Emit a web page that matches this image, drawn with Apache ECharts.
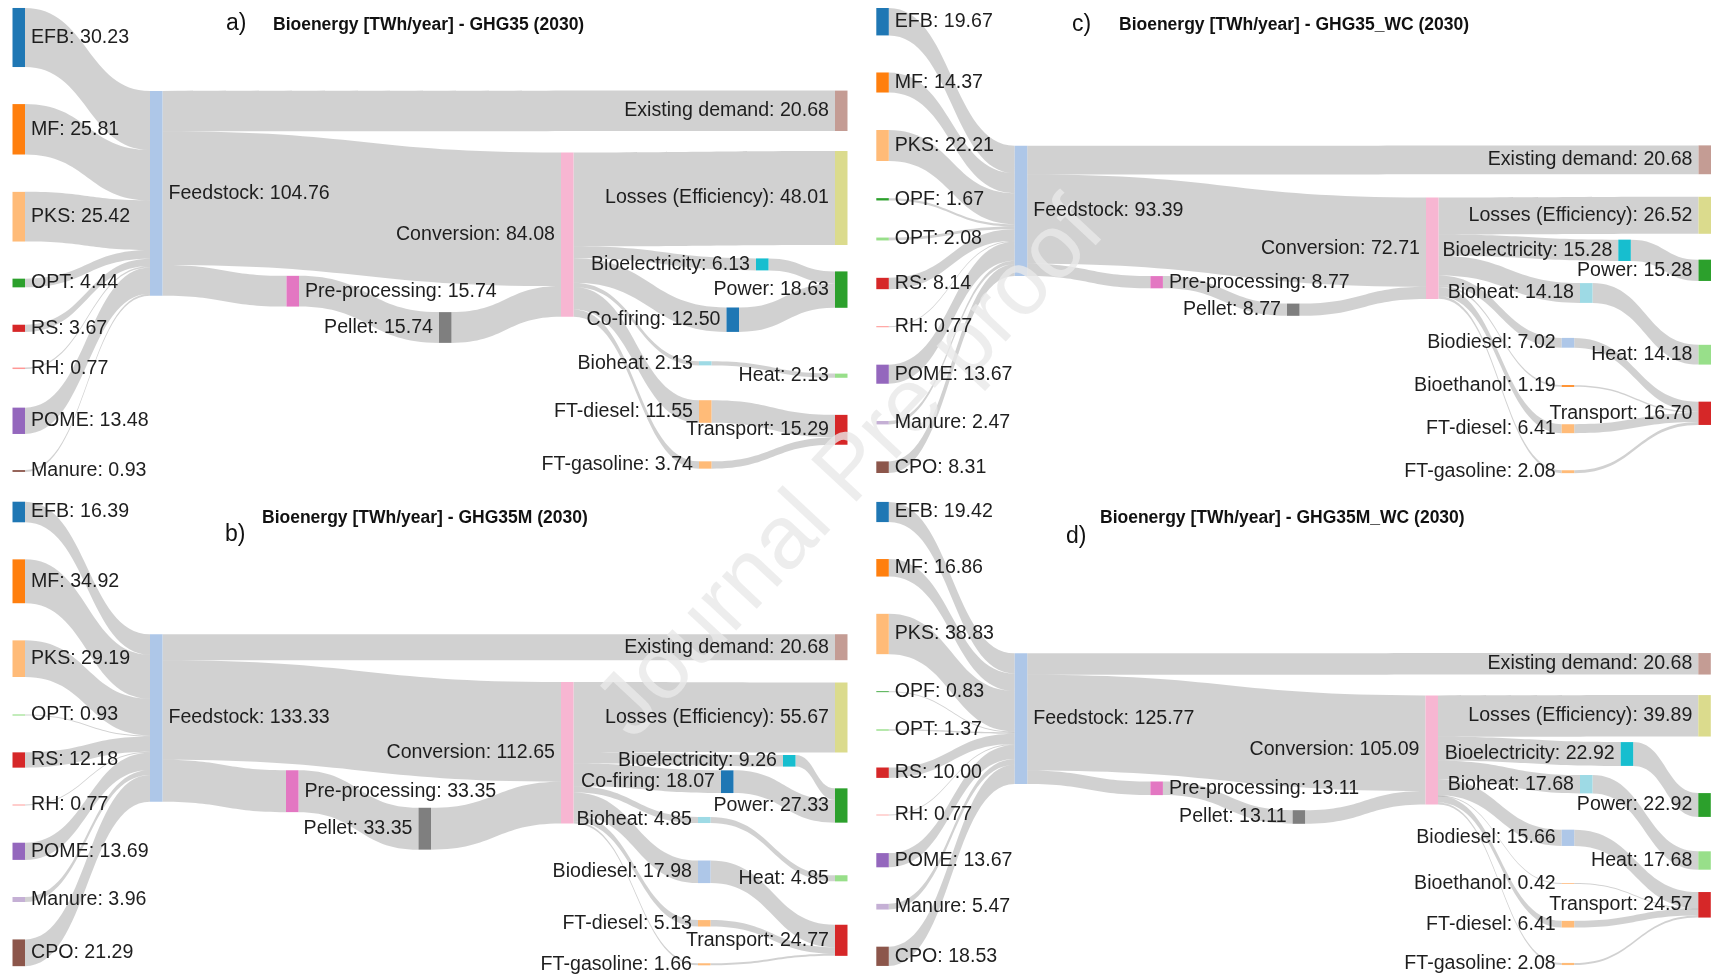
<!DOCTYPE html>
<html>
<head>
<meta charset="utf-8">
<title>Bioenergy Sankey diagrams (2030)</title>
<script src="https://cdn.jsdelivr.net/npm/echarts@6.0.0/dist/echarts.min.js"></script>
<style>
  html, body { margin: 0; padding: 0; background: #ffffff; }
  #chart { width: 1711px; height: 977px; }
</style>
</head>
<body>
<div id="chart"></div>
<script>
// ---------------------------------------------------------------
// Data: bioenergy flows in TWh/year for four 2030 scenarios
// ---------------------------------------------------------------
// Stage order used by every scenario
const STAGES = ['Feedstock', 'Existing demand', 'Pre-processing', 'Pellet', 'Conversion'];
const USES = ['Power', 'Heat', 'Transport'];
// Which end use each conversion product feeds
const PRODUCT_USE = {
  'Bioelectricity': 'Power', 'Co-firing': 'Power', 'Bioheat': 'Heat',
  'Biodiesel': 'Transport', 'Bioethanol': 'Transport',
  'FT-diesel': 'Transport', 'FT-gasoline': 'Transport'
};

// a) GHG35
const SOURCES_A = ['EFB', 'MF', 'PKS', 'OPT', 'RS', 'RH', 'POME', 'Manure'];
const SOURCE_VALUES_A = [30.23, 25.81, 25.42, 4.44, 3.67, 0.77, 13.48, 0.93];
const STAGE_VALUES_A = [104.76, 20.68, 15.74, 15.74, 84.08];
const PRODUCTS_A = ['Losses (Efficiency)', 'Bioelectricity', 'Co-firing', 'Bioheat', 'FT-diesel', 'FT-gasoline'];
const PRODUCT_VALUES_A = [48.01, 6.13, 12.50, 2.13, 11.55, 3.74];
const USE_VALUES_A = [18.63, 2.13, 15.29];

// b) GHG35M
const SOURCES_B = ['EFB', 'MF', 'PKS', 'OPT', 'RS', 'RH', 'POME', 'Manure', 'CPO'];
const SOURCE_VALUES_B = [16.39, 34.92, 29.19, 0.93, 12.18, 0.77, 13.69, 3.96, 21.29];
const STAGE_VALUES_B = [133.33, 20.68, 33.35, 33.35, 112.65];
const PRODUCTS_B = ['Losses (Efficiency)', 'Bioelectricity', 'Co-firing', 'Bioheat', 'Biodiesel', 'FT-diesel', 'FT-gasoline'];
const PRODUCT_VALUES_B = [55.67, 9.26, 18.07, 4.85, 17.98, 5.13, 1.66];
const USE_VALUES_B = [27.33, 4.85, 24.77];

// c) GHG35_WC
const SOURCES_C = ['EFB', 'MF', 'PKS', 'OPF', 'OPT', 'RS', 'RH', 'POME', 'Manure', 'CPO'];
const SOURCE_VALUES_C = [19.67, 14.37, 22.21, 1.67, 2.08, 8.14, 0.77, 13.67, 2.47, 8.31];
const STAGE_VALUES_C = [93.39, 20.68, 8.77, 8.77, 72.71];
const PRODUCTS_C = ['Losses (Efficiency)', 'Bioelectricity', 'Bioheat', 'Biodiesel', 'Bioethanol', 'FT-diesel', 'FT-gasoline'];
const PRODUCT_VALUES_C = [26.52, 15.28, 14.18, 7.02, 1.19, 6.41, 2.08];
const USE_VALUES_C = [15.28, 14.18, 16.70];

// d) GHG35M_WC
const SOURCES_D = ['EFB', 'MF', 'PKS', 'OPF', 'OPT', 'RS', 'RH', 'POME', 'Manure', 'CPO'];
const SOURCE_VALUES_D = [19.42, 16.86, 38.83, 0.83, 1.37, 10.00, 0.77, 13.67, 5.47, 18.53];
const STAGE_VALUES_D = [125.77, 20.68, 13.11, 13.11, 105.09];
const PRODUCTS_D = ['Losses (Efficiency)', 'Bioelectricity', 'Bioheat', 'Biodiesel', 'Bioethanol', 'FT-diesel', 'FT-gasoline'];
const PRODUCT_VALUES_D = [39.89, 22.92, 17.68, 15.66, 0.42, 6.41, 2.08];
const USE_VALUES_D = [22.92, 17.68, 24.57];

const TITLES = [
  'Bioenergy [TWh/year] - GHG35 (2030)',
  'Bioenergy [TWh/year] - GHG35M (2030)',
  'Bioenergy [TWh/year] - GHG35_WC (2030)',
  'Bioenergy [TWh/year] - GHG35M_WC (2030)'
];
const TAGS = ['a)', 'b)', 'c)', 'd)'];

// ---------------------------------------------------------------
// Styling and node arrangement (pixels on the 1711 x 977 canvas)
// ---------------------------------------------------------------
const W = 1711, H = 977;
const NODE_WIDTH = 12.5;
const FONT = '"Liberation Sans", Arial, Helvetica, sans-serif';

const COLORS = {
  'EFB': '#1f77b4', 'MF': '#ff7f0e', 'PKS': '#ffbb78', 'OPF': '#2ca02c', 'OPT': '#98df8a',
  'RS': '#d62728', 'RH': '#ff9896', 'POME': '#9467bd', 'Manure': '#c5b0d5', 'CPO': '#8c564b',
  'Feedstock': '#aec7e8', 'Existing demand': '#c49c94', 'Pre-processing': '#e377c2',
  'Pellet': '#7f7f7f', 'Conversion': '#f7b6d2', 'Losses (Efficiency)': '#dbdb8d',
  'Bioelectricity': '#17becf', 'Co-firing': '#1f77b4', 'Bioheat': '#9edae5',
  'Biodiesel': '#aec7e8', 'Bioethanol': '#ff7f0e', 'FT-diesel': '#ffbb78', 'FT-gasoline': '#ffbb78',
  'Power': '#2ca02c', 'Heat': '#98df8a', 'Transport': '#d62728'
};

// Per panel: pixels per TWh, column x (left edge) and node centre y
const ARRANGE = [
  { // a)
    ky: 1.954, title: [273, 25], tag: [226, 24], overrides: { 'OPT': '#2ca02c', 'Manure': '#8c564b' },
    x: { source: 12.5, 'Feedstock': 150, 'Pre-processing': 286.5, 'Pellet': 439, 'Conversion': 561,
         'Bioelectricity': 756, 'Co-firing': 726.5, 'Bioheat': 699, 'FT-diesel': 699, 'FT-gasoline': 699,
         right: 835 },
    cy: { 'EFB': 37.5, 'MF': 129.3, 'PKS': 216.7, 'OPT': 283, 'RS': 328.3, 'RH': 368.3, 'POME': 420.8,
          'Manure': 471, 'Feedstock': 193.3, 'Existing demand': 110.8, 'Pre-processing': 291.2,
          'Pellet': 327.5, 'Conversion': 234.7, 'Losses (Efficiency)': 198, 'Bioelectricity': 264.4,
          'Co-firing': 319.7, 'Bioheat': 363.3, 'FT-diesel': 411.5, 'FT-gasoline': 465,
          'Power': 289.6, 'Heat': 375.7, 'Transport': 429.8 }
  },
  { // b)
    ky: 1.256, title: [262, 518], tag: [225, 535], overrides: {},
    x: { source: 12.5, 'Feedstock': 150, 'Pre-processing': 286, 'Pellet': 418.5, 'Conversion': 561,
         'Bioelectricity': 783, 'Co-firing': 721, 'Bioheat': 698, 'Biodiesel': 698, 'FT-diesel': 698,
         'FT-gasoline': 698, right: 835 },
    cy: { 'EFB': 512, 'MF': 581.3, 'PKS': 658.7, 'OPT': 715, 'RS': 760, 'RH': 805, 'POME': 851.3,
          'Manure': 899.5, 'CPO': 952.8, 'Feedstock': 718, 'Existing demand': 647.2,
          'Pre-processing': 791.2, 'Pellet': 828.7, 'Conversion': 752.8, 'Losses (Efficiency)': 717.5,
          'Bioelectricity': 760.8, 'Co-firing': 781.7, 'Bioheat': 820, 'Biodiesel': 871.8,
          'FT-diesel': 923.3, 'FT-gasoline': 964.3, 'Power': 805.5, 'Heat': 878.3, 'Transport': 940.3 }
  },
  { // c)
    ky: 1.395, title: [1119, 25], tag: [1072, 25], overrides: {},
    x: { source: 876.3, 'Feedstock': 1014.7, 'Pre-processing': 1150.4, 'Pellet': 1287, 'Conversion': 1426,
         'Bioelectricity': 1618.3, 'Bioheat': 1580, 'Biodiesel': 1561.7, 'Bioethanol': 1561.7,
         'FT-diesel': 1561.7, 'FT-gasoline': 1561.7, right: 1698.5 },
    cy: { 'EFB': 21.7, 'MF': 82.5, 'PKS': 145.5, 'OPF': 199.3, 'OPT': 239, 'RS': 283.5, 'RH': 326.7,
          'POME': 374.2, 'Manure': 422.7, 'CPO': 467.2, 'Feedstock': 210.8, 'Existing demand': 159.8,
          'Pre-processing': 282.2, 'Pellet': 309.7, 'Conversion': 248.2, 'Losses (Efficiency)': 215.3,
          'Bioelectricity': 250.3, 'Bioheat': 293, 'Biodiesel': 342.8, 'Bioethanol': 386,
          'FT-diesel': 428.7, 'FT-gasoline': 471.7, 'Power': 270.3, 'Heat': 354.7, 'Transport': 413.3 }
  },
  { // d)
    ky: 1.039, title: [1100, 518], tag: [1066, 537], overrides: {},
    x: { source: 876.3, 'Feedstock': 1014.7, 'Pre-processing': 1150.4, 'Pellet': 1292.6, 'Conversion': 1425.5,
         'Bioelectricity': 1620.7, 'Bioheat': 1580, 'Biodiesel': 1561.7, 'Bioethanol': 1561.7,
         'FT-diesel': 1561.7, 'FT-gasoline': 1561.7, right: 1698.3 },
    cy: { 'EFB': 512, 'MF': 567.8, 'PKS': 634, 'OPF': 691.7, 'OPT': 730, 'RS': 772.7, 'RH': 815,
          'POME': 860.2, 'Manure': 906.7, 'CPO': 956.3, 'Feedstock': 718.7, 'Existing demand': 663.8,
          'Pre-processing': 788.3, 'Pellet': 817, 'Conversion': 750, 'Losses (Efficiency)': 715.8,
          'Bioelectricity': 754, 'Bioheat': 784.2, 'Biodiesel': 837.8, 'Bioethanol': 883.3,
          'FT-diesel': 924.2, 'FT-gasoline': 964, 'Power': 805, 'Heat': 860.5, 'Transport': 904.8 }
  }
];

const SCENARIOS = [
  [SOURCES_A, SOURCE_VALUES_A, STAGE_VALUES_A, PRODUCTS_A, PRODUCT_VALUES_A, USE_VALUES_A],
  [SOURCES_B, SOURCE_VALUES_B, STAGE_VALUES_B, PRODUCTS_B, PRODUCT_VALUES_B, USE_VALUES_B],
  [SOURCES_C, SOURCE_VALUES_C, STAGE_VALUES_C, PRODUCTS_C, PRODUCT_VALUES_C, USE_VALUES_C],
  [SOURCES_D, SOURCE_VALUES_D, STAGE_VALUES_D, PRODUCTS_D, PRODUCT_VALUES_D, USE_VALUES_D]
];

// Build one sankey series per scenario
function buildSeries(scenario, arr) {
  const [sources, sourceValues, stageValues, products, productValues, useValues] = scenario;
  const [feed, existing, pre, pellet, conv] = stageValues;
  const nodes = [];
  const links = [];

  function addNode(name, value, depth, labelPos, isSource) {
    const colX = isSource ? arr.x.source : (arr.x[name] !== undefined ? arr.x[name] : arr.x.right);
    const top = arr.cy[name] - value * arr.ky / 2;
    nodes.push({
      name: name,
      value: value,
      depth: depth,
      localX: colX / W,
      localY: top / H,
      itemStyle: { color: arr.overrides[name] || COLORS[name] },
      label: { position: labelPos }
    });
  }

  sources.forEach((s, i) => addNode(s, sourceValues[i], 0, 'right', true));
  addNode(STAGES[0], feed, 1, 'right');
  addNode(STAGES[2], pre, 2, 'right');
  addNode(STAGES[3], pellet, 3, 'left');
  addNode(STAGES[4], conv, 4, 'left');
  products.forEach((p, i) => addNode(p, productValues[i], 5, 'left'));
  addNode(STAGES[1], existing, 6, 'left');
  USES.forEach((u, i) => addNode(u, useValues[i], 6, 'left'));

  sources.forEach((s, i) => links.push({ source: s, target: 'Feedstock', value: sourceValues[i] }));
  links.push({ source: 'Feedstock', target: 'Existing demand', value: existing });
  links.push({ source: 'Feedstock', target: 'Conversion', value: +(conv - pellet).toFixed(2) });
  links.push({ source: 'Feedstock', target: 'Pre-processing', value: pre });
  links.push({ source: 'Pre-processing', target: 'Pellet', value: pellet });
  links.push({ source: 'Pellet', target: 'Conversion', value: pellet });
  products.forEach((p, i) => links.push({ source: 'Conversion', target: p, value: productValues[i] }));
  products.forEach((p, i) => {
    if (PRODUCT_USE[p]) links.push({ source: p, target: PRODUCT_USE[p], value: productValues[i] });
  });

  // Gap chosen so the source column sets the scale (arr.ky pixels per TWh)
  const sumSources = sourceValues.reduce((a, b) => a + b, 0);
  const gap = (H - arr.ky * sumSources) / (sources.length - 1);

  return {
    type: 'sankey',
    left: 0, top: 0, width: W, height: H,
    z: 2,
    nodeWidth: NODE_WIDTH,
    nodeGap: gap,
    nodeAlign: 'left',
    layoutIterations: 0,
    draggable: false,
    silent: true,
    emphasis: { disabled: true },
    itemStyle: { borderWidth: 0 },
    lineStyle: { color: '#000000', opacity: 0.18, curveness: 0.5 },
    label: {
      show: true,
      color: '#1e1e1e',
      fontFamily: FONT,
      fontSize: 19.6,
      distance: 6,
      formatter: p => p.name + ': ' + Number(p.value).toFixed(2)
    },
    data: nodes,
    links: links
  };
}

const series = SCENARIOS.map((s, i) => buildSeries(s, ARRANGE[i]));

const graphics = [];
ARRANGE.forEach((arr, i) => {
  graphics.push({
    type: 'text', x: arr.tag[0], y: arr.tag[1], z: 50,
    style: { text: TAGS[i], font: '23px ' + FONT, fill: '#111111', align: 'left', verticalAlign: 'middle' }
  });
  graphics.push({
    type: 'text', x: arr.title[0], y: arr.title[1], z: 50,
    style: { text: TITLES[i], font: 'bold 17.5px ' + FONT, fill: '#111111', align: 'left', verticalAlign: 'middle' }
  });
});
// Pre-proof watermark: above the flows and nodes, beneath the node labels
graphics.push({
  type: 'text', x: 852, y: 470, rotation: 47 * Math.PI / 180, z: 2, z2: 11, silent: true,
  style: { text: 'Journal Pre-proof', font: '90px ' + FONT, fill: 'rgba(232,232,232,0.8)',
           align: 'center', verticalAlign: 'middle' }
});

const chart = echarts.init(document.getElementById('chart'), null, { renderer: 'canvas', width: W, height: H });
chart.setOption({
  backgroundColor: '#ffffff',
  animation: false,
  series: series,
  graphic: graphics
});
</script>
</body>
</html>
